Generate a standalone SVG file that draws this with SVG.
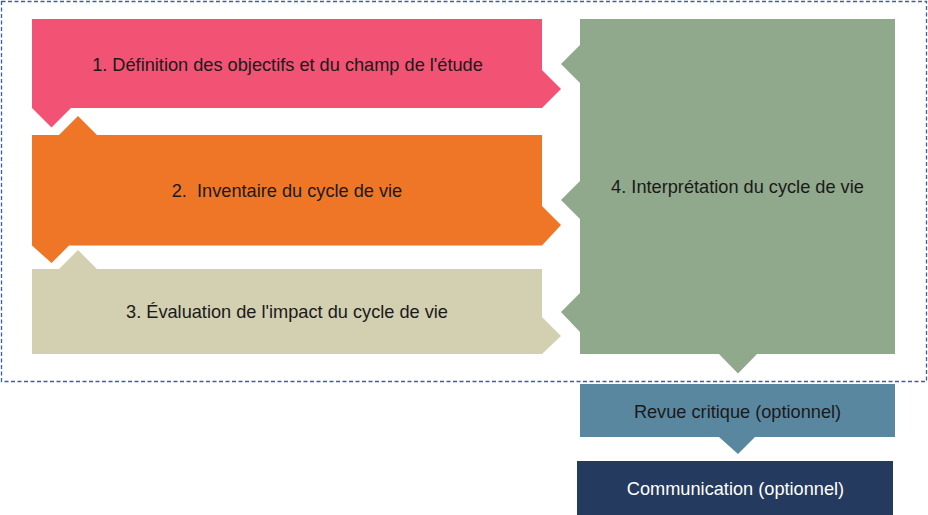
<svg xmlns="http://www.w3.org/2000/svg" width="928" height="515" viewBox="0 0 928 515">
<style>
text{font-family:"Liberation Sans",Arial,sans-serif;font-size:18.2px;text-anchor:middle;fill:#1a1a1a}
.w{fill:#ffffff}
.frame{fill:none;stroke:#3a5fa8;stroke-width:1.3;stroke-dasharray:4 2.5}
</style>
<rect width="928" height="515" fill="#ffffff"/>
<g id="connectors"></g>
<g id="frame"><rect class="frame" x="1.5" y="1.5" width="925" height="380"/></g>
<g id="n1">
<path d="M32,19 H542 V70 L561,89 L542,108 H71 L51.5,127.5 L32,108 Z" fill="#f25273"/>
<text x="287.5" y="71">1. Définition des objectifs et du champ de l'étude</text>
</g>
<g id="n2">
<path d="M32,135 H59 L78,116 L97,135 H542 V206 L561,225 L542,245.5 H69 L51.5,263 L32,245.5 Z" fill="#ee7626"/>
<text x="287" y="197" xml:space="preserve">2.  Inventaire du cycle de vie</text>
</g>
<g id="n3">
<path d="M32,269 H59 L78,250 L97,269 H542 V317 L561,336 L542,354 H32 Z" fill="#d3cfb1"/>
<text x="287" y="318">3. Évaluation de l'impact du cycle de vie</text>
</g>
<g id="n4">
<path d="M580,19 H895 V354 H757 L738,373.5 L719,354 H580 V332 L561,312 L580,293 V219 L561,200 L580,181 V83 L561,64 L580,45 Z" fill="#90a88b"/>
<text x="737.5" y="193">4. Interprétation du cycle de vie</text>
</g>
<g id="n5">
<path d="M580,384 H895 V437 H755 L738,454 L719,437 H580 Z" fill="#5a87a0"/>
<text x="737.5" y="418">Revue critique (optionnel)</text>
</g>
<g id="n6">
<rect x="577" y="461" width="316" height="54" fill="#243a5e"/>
<text class="w" x="735.5" y="495">Communication (optionnel)</text>
</g>
</svg>
